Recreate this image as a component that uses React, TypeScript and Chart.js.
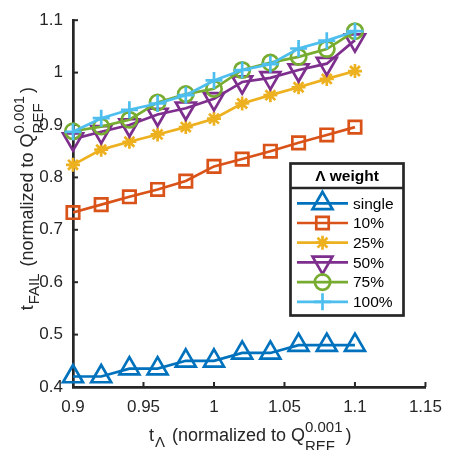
import React, { useEffect, useRef } from 'react';
import { Chart, registerables } from 'chart.js';
import { drawPoint } from 'chart.js/helpers';

Chart.register(...registerables);

// ---- data ----
const xValues = [0.9, 0.92, 0.94, 0.96, 0.98, 1.0, 1.02, 1.04, 1.06, 1.08, 1.1];
const singleVals = [0.42, 0.42, 0.435, 0.435, 0.45, 0.45, 0.465, 0.465, 0.48, 0.48, 0.48];
const w10Vals = [0.733, 0.748, 0.763, 0.777, 0.793, 0.821, 0.835, 0.85, 0.866, 0.881, 0.896];
const w25Vals = [0.824, 0.853, 0.868, 0.882, 0.896, 0.912, 0.941, 0.957, 0.972, 0.988, 1.003];
const w50Vals = [0.873, 0.887, 0.9, 0.92, 0.932, 0.95, 0.982, 0.99, 1.005, 1.017, 1.062];
const w75Vals = [0.888, 0.897, 0.91, 0.943, 0.959, 0.969, 1.005, 1.019, 1.03, 1.045, 1.079];
const w100Vals = [0.887, 0.913, 0.929, 0.941, 0.957, 0.985, 1.005, 1.016, 1.046, 1.061, 1.079];

const seriesLabels = ['single', '10%', '25%', '50%', '75%', '100%'];
const seriesValues = [singleVals, w10Vals, w25Vals, w50Vals, w75Vals, w100Vals];

const xTicks = [0.9, 0.95, 1, 1.05, 1.1, 1.15];
const yTicks = [0.4, 0.5, 0.6, 0.7, 0.8, 0.9, 1.0, 1.1];

const legendTitle = 'Λ weight';

// ---- styles ----
const seriesColors = ['#0072BD', '#D95319', '#EDB120', '#7E2F8E', '#77AC30', '#4DBEEE'];
const markerStyles = [
  { style: 'triangle', rotation: 0, radius: 11.5 },
  { style: 'rect', rotation: 0, radius: 8.8 },
  { style: 'star', rotation: 0, radius: 7 },
  { style: 'triangle', rotation: 180, radius: 11.5 },
  { style: 'circle', rotation: 0, radius: 7.7 },
  { style: 'cross', rotation: 0, radius: 8.5 },
];
const FONT = "'Liberation Sans', Arial, Helvetica, sans-serif";
const AXIS = '#262626';
const LW = 2.7;

type Part = { t: string; size: number; dy: number; below?: string; belowDy?: number; gap?: number };

function drawRich(ctx: CanvasRenderingContext2D, parts: Part[], cx: number, baseY: number) {
  ctx.textBaseline = 'alphabetic';
  ctx.textAlign = 'left';
  const widths = parts.map((p) => {
    ctx.font = `${p.size}px ${FONT}`;
    let w = ctx.measureText(p.t).width;
    if (p.below) w = Math.max(w, ctx.measureText(p.below).width);
    return w + (p.gap || 0);
  });
  const total = widths.reduce((a, b) => a + b, 0);
  let x = cx - total / 2;
  parts.forEach((p, i) => {
    ctx.font = `${p.size}px ${FONT}`;
    ctx.fillText(p.t, x, baseY + p.dy);
    if (p.below) ctx.fillText(p.below, x, baseY + (p.belowDy || 0));
    x += widths[i];
  });
}

const xTitleParts: Part[] = [
  { t: 't', size: 18, dy: 0, gap: 1 },
  { t: 'Λ', size: 15, dy: 6, gap: 2 },
  { t: ' (normalized to Q', size: 18, dy: 0 },
  { t: '0.001', size: 15, dy: -9, below: 'REF', belowDy: 10, gap: 3 },
  { t: ')', size: 18, dy: 0 },
];
const yTitleParts: Part[] = [
  { t: 't', size: 18, dy: 0, gap: 1 },
  { t: 'FAIL', size: 15, dy: 6, gap: 2 },
  { t: ' (normalized to Q', size: 18, dy: 0 },
  { t: '0.001', size: 15, dy: -9, below: 'REF', belowDy: 10, gap: 3 },
  { t: ')', size: 18, dy: 0 },
];

const axesPlugin = {
  id: 'matlabAxes',
  beforeDatasetsDraw(chart: any) {
    const { ctx, chartArea, scales } = chart;
    ctx.save();
    ctx.strokeStyle = AXIS;
    ctx.lineWidth = 2;
    xTicks.forEach((v) => {
      const px = scales.x.getPixelForValue(v);
      ctx.beginPath();
      ctx.moveTo(px, chartArea.bottom);
      ctx.lineTo(px, chartArea.bottom - 5);
      ctx.stroke();
    });
    yTicks.forEach((v) => {
      const py = scales.y.getPixelForValue(v);
      ctx.beginPath();
      ctx.moveTo(chartArea.left, py);
      ctx.lineTo(chartArea.left + 5, py);
      ctx.stroke();
    });
    ctx.restore();
  },
  afterDraw(chart: any) {
    const { ctx, chartArea } = chart;
    ctx.save();
    ctx.fillStyle = AXIS;
    const cx = (chartArea.left + chartArea.right) / 2 + 1;
    drawRich(ctx, xTitleParts, cx, 441);
    ctx.translate(33, (chartArea.top + chartArea.bottom) / 2 - 5);
    ctx.rotate(-Math.PI / 2);
    drawRich(ctx, yTitleParts, 0, 0);
    ctx.restore();

    // legend
    const bx = 290.5, by = 163.5, bw = 113, bh = 152, divY = 188;
    ctx.save();
    ctx.fillStyle = '#ffffff';
    ctx.fillRect(bx, by, bw, bh);
    ctx.strokeStyle = AXIS;
    ctx.lineWidth = LW;
    ctx.strokeRect(bx, by, bw, bh);
    ctx.beginPath();
    ctx.moveTo(bx, divY);
    ctx.lineTo(bx + bw, divY);
    ctx.stroke();
    ctx.fillStyle = '#000';
    ctx.font = `bold 15.5px ${FONT}`;
    ctx.textAlign = 'center';
    ctx.textBaseline = 'middle';
    ctx.fillText(legendTitle, bx + bw / 2, (by + divY) / 2 + 1);
    seriesLabels.forEach((lab, i) => {
      const y = 203.3 + i * 19.7;
      ctx.strokeStyle = seriesColors[i];
      ctx.lineWidth = LW;
      ctx.beginPath();
      ctx.moveTo(297, y);
      ctx.lineTo(348, y);
      ctx.stroke();
      ctx.fillStyle = 'rgba(0,0,0,0)';
      drawPoint(ctx, {
        pointStyle: markerStyles[i].style as any,
        rotation: markerStyles[i].rotation,
        radius: markerStyles[i].radius,
        borderWidth: LW,
      } as any, 322.5, y);
      ctx.fillStyle = '#000';
      ctx.font = `15.5px ${FONT}`;
      ctx.textAlign = 'left';
      ctx.fillText(lab, 353, y + 1);
    });
    ctx.restore();
  },
};

function fmt(v: number) {
  return String(Number(v.toFixed(2)));
}

export default function App() {
  const ref = useRef<HTMLCanvasElement>(null);
  useEffect(() => {
    if (!ref.current) return;
    const datasets = seriesLabels.map((lab, i) => ({
      label: lab,
      data: xValues.map((x, j) => ({ x, y: seriesValues[i][j] })),
      borderColor: seriesColors[i],
      backgroundColor: 'rgba(0,0,0,0)',
      borderWidth: LW,
      pointStyle: markerStyles[i].style,
      pointRotation: markerStyles[i].rotation,
      pointRadius: markerStyles[i].radius,
      pointBorderWidth: LW,
      pointBorderColor: seriesColors[i],
      pointBackgroundColor: 'rgba(0,0,0,0)',
      tension: 0,
      clip: false as any,
      order: seriesLabels.length - i,
    }));
    const chart = new Chart(ref.current, {
      type: 'line',
      data: { datasets },
      plugins: [axesPlugin],
      options: {
        animation: false,
        responsive: false,
        devicePixelRatio: 1,
        events: [],
        layout: { padding: { top: 14, right: 16, left: 0, bottom: 0 } },
        plugins: { legend: { display: false }, tooltip: { enabled: false }, title: { display: false } },
        scales: {
          x: {
            type: 'linear',
            min: 0.9,
            max: 1.15,
            afterBuildTicks: (s: any) => { s.ticks = xTicks.map((v) => ({ value: v })); },
            afterFit: (s: any) => { s.height = 63; },
            ticks: {
              callback: (v: any) => fmt(Number(v)),
              font: { family: FONT, size: 17 },
              color: AXIS,
              padding: 10,
              maxRotation: 0,
              autoSkip: false,
            },
            grid: { display: false, drawTicks: false },
            border: { display: true, color: AXIS, width: LW },
          },
          y: {
            type: 'linear',
            min: 0.4,
            max: 1.1,
            afterBuildTicks: (s: any) => { s.ticks = yTicks.map((v) => ({ value: v })); },
            afterFit: (s: any) => { s.width = 73; },
            ticks: {
              callback: (v: any) => fmt(Number(v)),
              font: { family: FONT, size: 17 },
              color: AXIS,
              padding: 10,
              autoSkip: false,
            },
            grid: { display: false, drawTicks: false },
            border: { display: true, color: AXIS, width: LW },
          },
        },
      } as any,
    });
    return () => chart.destroy();
  }, []);
  return (
    <div style={{ position: 'fixed', left: 0, top: 0, width: 452, height: 450, background: '#fff' }}>
      <canvas ref={ref} width={452} height={450} style={{ width: 452, height: 450, display: 'block' }} />
    </div>
  );
}
